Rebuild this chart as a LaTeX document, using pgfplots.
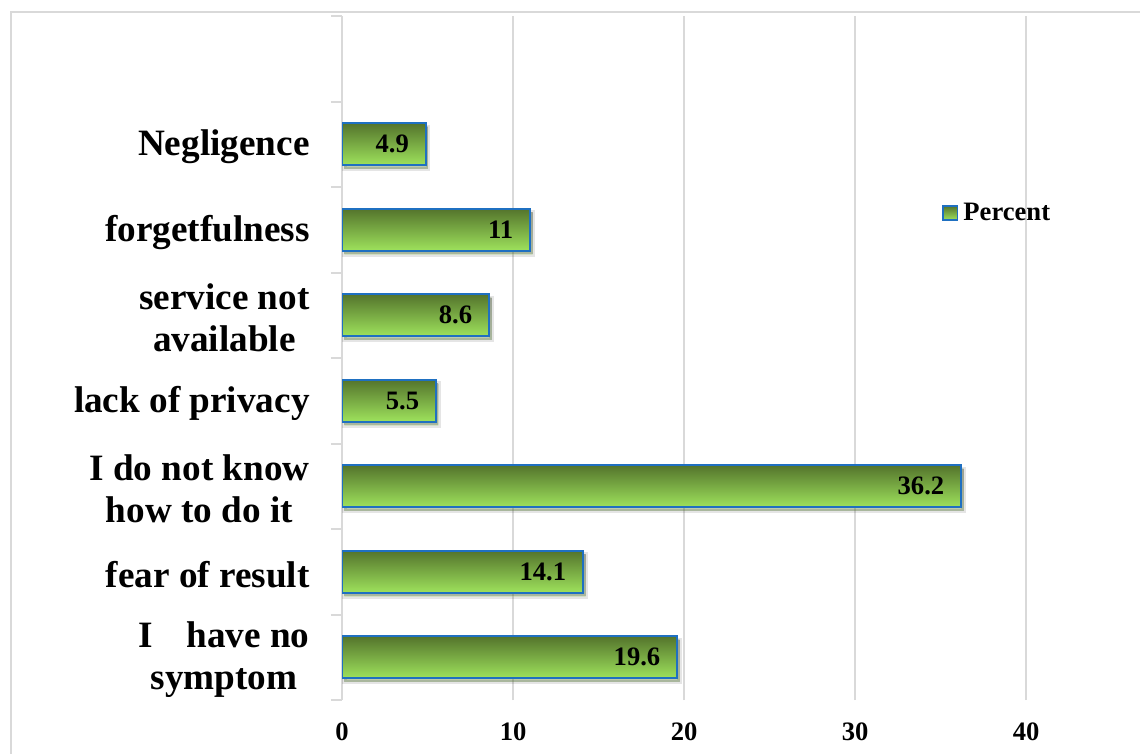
\documentclass[border=0pt]{standalone}
\usepackage{fontspec}
\setmainfont{Liberation Serif}
\usepackage{pgfplots}
\pgfplotsset{compat=1.18}

\definecolor{barTop}{RGB}{84,116,44}
\definecolor{barBot}{RGB}{158,226,92}
\definecolor{barEdge}{RGB}{31,112,193}
\definecolor{frameGray}{RGB}{217,217,217}

\pgfplotsset{
  greenbar/.style={
    xbar, bar width=21pt, bar shift=0pt,
    draw=barEdge, line width=1pt,
    top color=barTop, bottom color=barBot,
    preaction={draw=black, draw opacity=0.10, line width=2.2pt, fill=black, fill opacity=0.22,
      transform canvas={xshift=1.2pt, yshift=-1.8pt}},
    forget plot,
  },
  barkey/.style={
    legend image code/.code={
      \draw[draw=barEdge, line width=0.75pt, top color=barTop, bottom color=barBot] (0pt,-3.5pt) rectangle (7.2pt,3.5pt);
    },
  },
}

\begin{document}
\begin{tikzpicture}
\useasboundingbox (0,0) rectangle (570pt,-377pt);
\fill[white] (0,0) rectangle (570pt,-377pt);
\begin{axis}[
  at={(171pt,-350pt)}, anchor=south west,
  scale only axis, width=390pt, height=342pt,
  xmin=0, xmax=45.6, ymin=-0.5, ymax=7.5,
  axis lines*=left, separate axis lines,
  x axis line style={draw=none},
  y axis line style={draw=frameGray, line width=1pt},
  xtick={0,10,20,30,40},
  ytick={0,1,2,3,4,5,6},
  yticklabels={{I\hspace{0.9em}have no\\symptom},{fear of result},{I do not know\\how to do it},{lack of privacy},{service not\\available},{forgetfulness},{Negligence}},
  minor ytick={-0.5,0.5,1.5,2.5,3.5,4.5,5.5,6.5,7.5},
  major tick length=0pt, minor tick length=5.5pt,
  tick align=outside,
  major tick style={draw=none},
  minor tick style={draw=frameGray, line width=1pt},
  xmajorgrids, major x grid style={draw=frameGray, line width=1pt},
  /pgf/number format/assume math mode=true,
  yticklabel style={font=\fontsize{18.6}{21}\selectfont\bfseries, align=center, anchor=east, inner sep=0pt, xshift=-16pt, yshift=-1.2pt},
  xticklabel style={font=\fontsize{13.3}{16}\selectfont\bfseries, inner sep=0pt, anchor=north, yshift=-11pt},
  point meta=x,
  nodes near coords,
  every node near coord/.append style={anchor=east, inner sep=0pt, xshift=-8pt, black, font=\fontsize{13.3}{16}\selectfont\bfseries},
  legend style={at={(rel axis cs:0.7692,0.712)}, anchor=west, draw=none, fill=none, inner sep=0pt,
    column sep=2.6pt, font=\fontsize{13.3}{16}\selectfont\bfseries, nodes={inner sep=0pt}},
]
% one plot per bar so that every bar carries its own vertical gradient
\addplot[greenbar] coordinates {(19.6,0)};
\addplot[greenbar] coordinates {(14.1,1)};
\addplot[greenbar] coordinates {(36.2,2)};
\addplot[greenbar] coordinates {(5.5,3)};
\addplot[greenbar] coordinates {(8.6,4)};
\addplot[greenbar] coordinates {(11,5)};
\addplot[greenbar] coordinates {(4.9,6)};
\addlegendimage{barkey}
\addlegendentry{Percent}
\end{axis}
% outer chart frame (continues past the right and bottom edges)
\fill[white] (562pt,0pt) rectangle (570pt,-377pt);
\draw[frameGray, line width=1pt] (5.25pt,-377pt) -- (5.25pt,-6pt) -- (570pt,-6pt);
\end{tikzpicture}
\end{document}
